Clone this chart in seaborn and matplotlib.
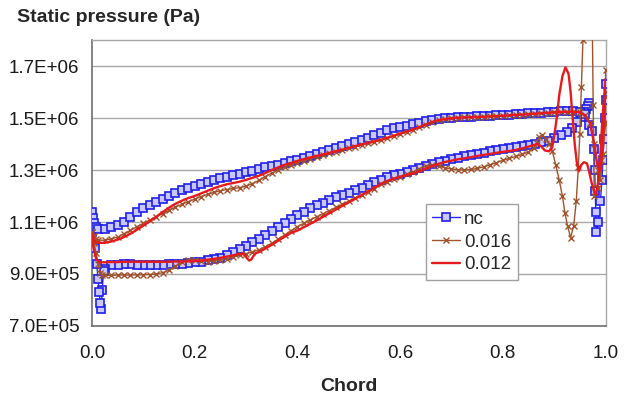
import numpy as np
import pandas as pd
import matplotlib
matplotlib.use("Agg")
import matplotlib.pyplot as plt
import seaborn as sns

# ---------------- data (pressure values in units of 1e5 Pa) ----------------
chord_mid = [0.025, 0.0375, 0.05, 0.0625, 0.075, 0.0875, 0.1, 0.1125, 0.125, 0.1375,
             0.15, 0.1625, 0.175, 0.1875, 0.2, 0.2125, 0.225, 0.2375, 0.25, 0.2625,
             0.275, 0.2875, 0.3, 0.3125, 0.325, 0.3375, 0.35, 0.3625, 0.375, 0.3875,
             0.4, 0.4125, 0.425, 0.4375, 0.45, 0.4625, 0.475, 0.4875, 0.5, 0.5125,
             0.525, 0.5375, 0.55, 0.5625, 0.575, 0.5875, 0.6, 0.6125, 0.625, 0.6375,
             0.65, 0.6625, 0.675, 0.6875, 0.7, 0.7125, 0.725, 0.7375, 0.75, 0.7625,
             0.775, 0.7875, 0.8, 0.8125, 0.825, 0.8375, 0.85]

# --- nc ---
nc_up_le_x = [0.0, 0.002, 0.004, 0.007, 0.0125]
nc_up_le_y = [11.4, 11.15, 10.95, 10.8, 10.75]
nc_up_mid = [10.75, 10.8, 10.9, 11.0, 11.2, 11.4, 11.55, 11.65, 11.78, 11.9,
             12.0, 12.1, 12.22, 12.32, 12.4, 12.47, 12.54, 12.62, 12.7, 12.75,
             12.8, 12.85, 12.92, 12.98, 13.04, 13.1, 13.15, 13.2, 13.27, 13.33,
             13.4, 13.47, 13.55, 13.62, 13.7, 13.77, 13.84, 13.92, 14.0, 14.07,
             14.15, 14.25, 14.35, 14.44, 14.52, 14.6, 14.65, 14.7, 14.76, 14.82,
             14.88, 14.92, 14.96, 14.99, 15.01, 15.03, 15.04, 15.05, 15.06, 15.08,
             15.09, 15.1, 15.12, 15.13, 15.15, 15.16, 15.18]
nc_up_te_x = [0.8625, 0.875, 0.8875, 0.9, 0.9125, 0.925, 0.9375, 0.95, 0.96, 0.967,
              0.974, 0.978, 0.979, 0.98, 0.981, 0.982, 0.986, 0.99, 0.993, 0.995,
              0.997, 0.999, 1.0, 1.0]
nc_up_te_y = [15.2, 15.21, 15.23, 15.25, 15.26, 15.27, 15.27, 15.25, 15.15, 14.75,
              14.5, 13.8, 13.0, 12.2, 11.4, 10.6, 11.0, 11.8, 12.6, 13.4,
              14.2, 15.0, 15.7, 16.3]
nc_lo_le_x = [0.0, 0.005, 0.009, 0.012, 0.014, 0.016, 0.018, 0.02, 0.0225]
nc_lo_le_y = [10.6, 10.0, 9.4, 8.8, 8.3, 7.9, 7.65, 8.4, 9.1]
nc_lo_mid = [9.2, 9.33, 9.36, 9.37, 9.37, 9.36, 9.35, 9.35, 9.35, 9.36,
             9.37, 9.38, 9.4, 9.43, 9.46, 9.48, 9.52, 9.57, 9.63, 9.72,
             9.83, 9.95, 10.08, 10.22, 10.36, 10.5, 10.65, 10.8, 10.98, 11.13,
             11.27, 11.4, 11.52, 11.64, 11.75, 11.85, 11.95, 12.05, 12.13, 12.22,
             12.32, 12.42, 12.52, 12.62, 12.72, 12.8, 12.86, 12.93, 13.0, 13.08,
             13.15, 13.23, 13.3, 13.36, 13.42, 13.48, 13.52, 13.57, 13.62, 13.67,
             13.72, 13.77, 13.81, 13.85, 13.88, 13.92, 13.96]
nc_lo_te_x = [0.8625, 0.875, 0.8875, 0.9, 0.9125, 0.925, 0.935, 0.945, 0.952, 0.958,
              0.962, 0.965, 0.968]
nc_lo_te_y = [14.0, 14.06, 14.13, 14.22, 14.33, 14.45, 14.62, 14.85, 15.05, 15.22,
              15.35, 15.47, 15.58]

# --- 0.012 ---
r_up_le_x = [0.0, 0.004, 0.008, 0.0125]
r_up_le_y = [10.55, 10.3, 10.22, 10.2]
r_up_mid = [10.2, 10.25, 10.32, 10.42, 10.55, 10.7, 10.86, 11.03, 11.2, 11.38,
            11.55, 11.7, 11.82, 11.92, 12.0, 12.1, 12.2, 12.3, 12.38, 12.45,
            12.5, 12.55, 12.62, 12.7, 12.78, 12.88, 13.0, 13.1, 13.2, 13.27,
            13.35, 13.42, 13.48, 13.54, 13.6, 13.66, 13.72, 13.78, 13.85, 13.92,
            13.98, 14.04, 14.1, 14.16, 14.24, 14.32, 14.4, 14.47, 14.55, 14.65,
            14.75, 14.85, 14.92, 14.96, 14.99, 15.01, 15.02, 15.03, 15.04, 15.05,
            15.06, 15.07, 15.09, 15.1, 15.12, 15.13, 15.15]
r_up_te_x = [0.8625, 0.875, 0.8875, 0.9, 0.9125, 0.925, 0.9375, 0.95, 0.96, 0.97,
             0.978, 0.984, 0.99, 0.995, 1.0]
r_up_te_y = [15.17, 15.18, 15.2, 15.22, 15.23, 15.24, 15.24, 15.22, 15.1, 14.8,
             14.0, 13.2, 13.0, 14.2, 15.9]
r_lo_le_x = [0.0, 0.004, 0.008, 0.0125, 0.018]
r_lo_le_y = [10.3, 9.9, 9.6, 9.48, 9.45]
r_lo_mid_a = [9.45, 9.46, 9.46, 9.47, 9.47, 9.47, 9.47, 9.47, 9.47, 9.47,
              9.47, 9.48, 9.48, 9.49, 9.5, 9.52, 9.55, 9.58, 9.62, 9.67, 9.72]
r_lo_bump_x = [0.285, 0.293, 0.298, 0.302, 0.306, 0.31, 0.314, 0.318]
r_lo_bump_y = [9.77, 9.78, 9.72, 9.6, 9.52, 9.55, 9.68, 9.8]
r_lo_mid_b = [9.84, 9.98, 10.12, 10.28, 10.43, 10.58,
              10.67, 10.8, 10.93, 11.06, 11.2, 11.34, 11.48, 11.62, 11.76, 11.9,
              12.03, 12.17, 12.32, 12.47, 12.58, 12.67, 12.74, 12.8, 12.86, 12.95,
              13.05, 13.15, 13.24, 13.31, 13.36, 13.41, 13.45, 13.49, 13.54, 13.58,
              13.62, 13.66, 13.7, 13.73, 13.77, 13.83, 13.9]
r_lo_te_x = [0.86, 0.868, 0.875, 0.882, 0.89, 0.896, 0.9, 0.905, 0.91, 0.916,
             0.922, 0.928, 0.932, 0.936, 0.94, 0.944, 0.948, 0.953, 0.958, 0.964,
             0.968, 0.973, 0.978, 0.982, 0.986, 0.99, 0.994, 0.998, 1.0]
r_lo_te_y = [13.96, 14.0, 13.9, 13.75, 13.72, 13.85, 14.3, 15.0, 15.9, 16.6,
             16.95, 16.7, 16.0, 15.0, 14.0, 13.3, 12.95, 13.2, 13.3, 13.25,
             12.95, 12.5, 12.15, 12.05, 12.6, 13.6, 15.0, 16.0, 16.5]

# --- 0.016 ---
b_up_le_x = [0.0, 0.004, 0.008, 0.0125]
b_up_le_y = [10.6, 10.45, 10.35, 10.3]
b_up_mid = [10.3, 10.35, 10.42, 10.55, 10.68, 10.82, 10.95, 11.07, 11.2, 11.32,
            11.45, 11.57, 11.68, 11.78, 11.88, 11.98, 12.06, 12.14, 12.2, 12.25,
            12.29, 12.32, 12.38, 12.48, 12.6, 12.75, 12.88, 13.0, 13.1, 13.2,
            13.28, 13.36, 13.43, 13.5, 13.57, 13.64, 13.7, 13.77, 13.83, 13.9,
            13.96, 14.02, 14.08, 14.15, 14.22, 14.3, 14.38, 14.46, 14.55, 14.65,
            14.75, 14.85, 14.92, 14.96, 14.99, 15.01, 15.02, 15.03, 15.04, 15.05,
            15.06, 15.07, 15.09, 15.1, 15.12, 15.13, 15.15]
b_up_te_x = [0.8625, 0.875, 0.8875, 0.9, 0.9125, 0.925, 0.9375, 0.95, 0.96, 0.97,
             0.978, 0.985, 0.99, 0.995, 1.0, 1.0, 1.0]
b_up_te_y = [15.17, 15.18, 15.2, 15.22, 15.23, 15.24, 15.24, 15.22, 15.1, 14.8,
             14.0, 13.0, 12.6, 13.6, 14.8, 15.8, 16.85]
b_lo_le_x = [0.0, 0.004, 0.008, 0.012, 0.016, 0.02]
b_lo_le_y = [10.6, 10.2, 9.8, 9.4, 9.05, 8.95]
b_lo_mid = [8.95, 8.95, 8.96, 8.96, 8.96, 8.97, 8.97, 8.98, 9.0, 9.05,
            9.15, 9.3, 9.45, 9.55, 9.55, 9.5, 9.48, 9.5, 9.53, 9.58,
            9.65, 9.72, 9.78, 9.85, 9.93, 10.05, 10.18, 10.34, 10.5, 10.67,
            10.82, 10.95, 11.08, 11.2, 11.32, 11.44, 11.56, 11.68, 11.8, 11.92,
            12.04, 12.16, 12.28, 12.45, 12.55, 12.65, 12.75, 12.85, 12.93, 13.05,
            13.15, 13.19, 13.15, 13.08, 13.04, 13.01, 13.0, 13.02, 13.06, 13.12,
            13.2, 13.28, 13.37, 13.45, 13.52, 13.6, 13.7]
b_lo_te_x = [0.86, 0.866, 0.871, 0.877, 0.884, 0.89, 0.896, 0.903, 0.91, 0.916,
             0.921, 0.926, 0.932, 0.938, 0.943, 0.947, 0.95, 0.953, 0.956, 0.96,
             0.968, 0.974, 0.976, 0.978, 0.985, 0.992, 0.997, 1.0]
b_lo_te_y = [13.85, 14.05, 14.28, 14.35, 14.2, 14.0, 13.75, 13.2, 12.6, 12.0,
             11.35, 10.85, 10.4, 10.85, 11.8, 13.1, 14.4, 16.2, 18.0, 19.5,
             19.8, 19.0, 15.5, 12.0, 12.3, 13.4, 14.8, 16.0]

series_labels = ["nc", "0.016", "0.012"]
y_ticks = [7e5, 9e5, 1.1e6, 1.3e6, 1.5e6, 1.7e6]
y_tick_labels = ["7.0E+05", "9.0E+05", "1.1E+06", "1.3E+06", "1.5E+06", "1.7E+06"]
x_ticks = [0.0, 0.2, 0.4, 0.6, 0.8, 1.0]
x_tick_labels = ["0.0", "0.2", "0.4", "0.6", "0.8", "1.0"]


def loop(lo_x, lo_y, up_x, up_y):
    """lower branch from trailing edge to leading edge, then upper branch back."""
    x = list(lo_x)[::-1] + list(up_x)
    y = list(lo_y)[::-1] + list(up_y)
    return pd.DataFrame({"Chord": x, "p": np.array(y) * 1e5})


nc_df = loop(nc_lo_le_x + chord_mid + nc_lo_te_x, nc_lo_le_y + nc_lo_mid + nc_lo_te_y,
             nc_up_le_x + chord_mid + nc_up_te_x, nc_up_le_y + nc_up_mid + nc_up_te_y)
b_df = loop(b_lo_le_x + chord_mid + b_lo_te_x, b_lo_le_y + b_lo_mid + b_lo_te_y,
            b_up_le_x + chord_mid + b_up_te_x, b_up_le_y + b_up_mid + b_up_te_y)
r_lo_x = r_lo_le_x + chord_mid[:21] + r_lo_bump_x + chord_mid[24:] + r_lo_te_x
r_lo_y = r_lo_le_y + r_lo_mid_a + r_lo_bump_y + r_lo_mid_b + r_lo_te_y
r_df = loop(r_lo_x, r_lo_y,
            r_up_le_x + chord_mid + r_up_te_x, r_up_le_y + r_up_mid + r_up_te_y)

# ---------------- plotting ----------------
sns.set_style("white")
plt.rcParams["font.family"] = ["Liberation Sans", "DejaVu Sans"]

fig = plt.figure(figsize=(6.24, 4.0), dpi=100)
ax = fig.add_axes([0.1474, 0.185, 0.823, 0.715])

sns.lineplot(data=nc_df, x="Chord", y="p", sort=False, estimator=None, ax=ax,
             color="#2a2aff", linewidth=1.0, marker="s", markersize=5.5,
             markerfacecolor="#c8c8ff", markeredgecolor="#1f1fe6",
             markeredgewidth=1.2, label=series_labels[0], zorder=3)
sns.lineplot(data=b_df, x="Chord", y="p", sort=False, estimator=None, ax=ax,
             color="#a0522d", linewidth=1.0, marker="x", markersize=4.5,
             markeredgecolor="#a0522d", markeredgewidth=1.0,
             label=series_labels[1], zorder=4)
sns.lineplot(data=r_df, x="Chord", y="p", sort=False, estimator=None, ax=ax,
             color="#e41a1c", linewidth=1.7, label=series_labels[2], zorder=5)

ax.set_xlim(0, 1)
ax.set_ylim(7e5, 1.8e6)
ax.set_yticks(y_ticks)
ax.set_yticklabels(y_tick_labels)
ax.set_xticks(x_ticks)
ax.set_xticklabels(x_tick_labels)
ax.tick_params(axis="both", which="major", direction="out", length=6, width=1,
               color="#707070", labelsize=13.5, labelcolor="#1a1a1a", pad=3)
ax.tick_params(axis="x", pad=8)
ax.yaxis.grid(True, color="#a8a8a8", linewidth=1.0)
ax.xaxis.grid(False)
ax.set_axisbelow(True)

for side in ["left", "bottom"]:
    ax.spines[side].set_color("#6e6e6e")
    ax.spines[side].set_linewidth(1.2)
for side in ["top", "right"]:
    ax.spines[side].set_color("#a8a8a8")
    ax.spines[side].set_linewidth(1.0)

ax.set_xlabel("Chord", fontsize=14, fontweight="bold", labelpad=11)
ax.set_ylabel("")
fig.text(0.028, 0.955, "Static pressure (Pa)", fontsize=14, fontweight="bold",
         ha="left", va="center")

leg = ax.legend(loc="upper left", bbox_to_anchor=(0.650, 0.426), fontsize=13.5,
                frameon=True, fancybox=False, framealpha=1, edgecolor="#a0a0a0",
                handlelength=1.5, handletextpad=0.2, labelspacing=0.3,
                borderpad=0.35, borderaxespad=0)
leg.get_frame().set_linewidth(1.0)

fig.savefig("out.png", dpi=100)
